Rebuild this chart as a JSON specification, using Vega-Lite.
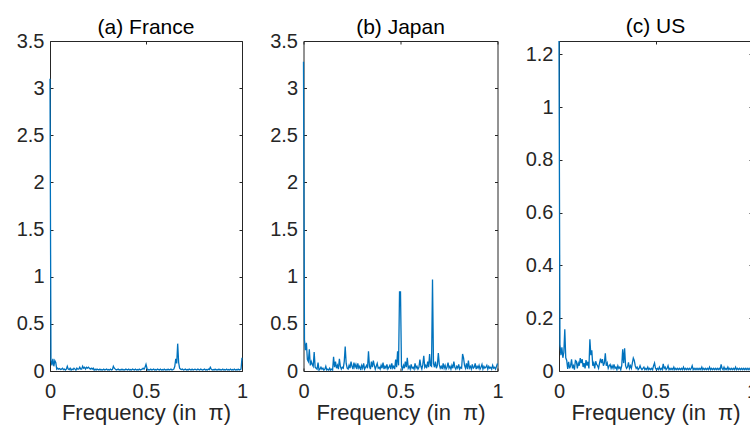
{
"$schema":"https://vega.github.io/schema/vega-lite/v6.json",
"padding":{"left":15,"top":15,"right":0,"bottom":2},
"background":"white",
"bounds":"flush",
"spacing":61.5,
"datasets":{
"fr":[
{"f":0,"p":3.1},{"f":0.005,"p":0.12},{"f":0.01,"p":0.06},{"f":0.015,"p":0.13},{"f":0.02,"p":0.05},{"f":0.025,"p":0.11},{"f":0.03,"p":0.09},{"f":0.035,"p":0.02},{"f":0.04,"p":0.03},{"f":0.045,"p":0.02},
{"f":0.05,"p":0.025},{"f":0.055,"p":0.015},{"f":0.06,"p":0.02},{"f":0.065,"p":0.03},{"f":0.07,"p":0.015},{"f":0.075,"p":0.02},{"f":0.08,"p":0.01},{"f":0.085,"p":0.02},{"f":0.09,"p":0.05},{"f":0.095,"p":0.02},
{"f":0.1,"p":0.015},{"f":0.105,"p":0.03},{"f":0.11,"p":0.01},{"f":0.115,"p":0.02},{"f":0.12,"p":0.015},{"f":0.125,"p":0.03},{"f":0.13,"p":0.02},{"f":0.135,"p":0.01},{"f":0.14,"p":0.03},{"f":0.145,"p":0.02},
{"f":0.15,"p":0.02},{"f":0.155,"p":0.04},{"f":0.16,"p":0.02},{"f":0.165,"p":0.02},{"f":0.17,"p":0.05},{"f":0.175,"p":0.03},{"f":0.18,"p":0.04},{"f":0.185,"p":0.02},{"f":0.19,"p":0.04},{"f":0.195,"p":0.03},
{"f":0.2,"p":0.04},{"f":0.205,"p":0.03},{"f":0.21,"p":0.02},{"f":0.215,"p":0.03},{"f":0.22,"p":0.02},{"f":0.225,"p":0.03},{"f":0.23,"p":0.01},{"f":0.235,"p":0.02},{"f":0.24,"p":0.01},{"f":0.245,"p":0.02},
{"f":0.25,"p":0.015},{"f":0.255,"p":0.01},{"f":0.26,"p":0.02},{"f":0.265,"p":0.01},{"f":0.27,"p":0.015},{"f":0.275,"p":0.01},{"f":0.28,"p":0.02},{"f":0.285,"p":0.01},{"f":0.29,"p":0.015},{"f":0.295,"p":0.02},
{"f":0.3,"p":0.01},{"f":0.305,"p":0.015},{"f":0.31,"p":0.01},{"f":0.315,"p":0.02},{"f":0.32,"p":0.01},{"f":0.325,"p":0.015},{"f":0.33,"p":0.05},{"f":0.335,"p":0.03},{"f":0.34,"p":0.02},{"f":0.345,"p":0.01},
{"f":0.35,"p":0.015},{"f":0.355,"p":0.02},{"f":0.36,"p":0.01},{"f":0.365,"p":0.015},{"f":0.37,"p":0.01},{"f":0.375,"p":0.02},{"f":0.38,"p":0.01},{"f":0.385,"p":0.015},{"f":0.39,"p":0.01},{"f":0.395,"p":0.02},
{"f":0.4,"p":0.015},{"f":0.405,"p":0.01},{"f":0.41,"p":0.02},{"f":0.415,"p":0.01},{"f":0.42,"p":0.015},{"f":0.425,"p":0.01},{"f":0.43,"p":0.02},{"f":0.435,"p":0.015},{"f":0.44,"p":0.01},{"f":0.445,"p":0.02},
{"f":0.45,"p":0.01},{"f":0.455,"p":0.015},{"f":0.46,"p":0.01},{"f":0.465,"p":0.02},{"f":0.47,"p":0.01},{"f":0.475,"p":0.015},{"f":0.48,"p":0.02},{"f":0.485,"p":0.03},{"f":0.49,"p":0.02},{"f":0.495,"p":0.04},
{"f":0.5,"p":0.07},{"f":0.505,"p":0.03},{"f":0.51,"p":0.01},{"f":0.515,"p":0.015},{"f":0.52,"p":0.01},{"f":0.525,"p":0.02},{"f":0.53,"p":0.01},{"f":0.535,"p":0.015},{"f":0.54,"p":0.02},{"f":0.545,"p":0.01},
{"f":0.55,"p":0.015},{"f":0.555,"p":0.01},{"f":0.56,"p":0.02},{"f":0.565,"p":0.015},{"f":0.57,"p":0.01},{"f":0.575,"p":0.02},{"f":0.58,"p":0.01},{"f":0.585,"p":0.015},{"f":0.59,"p":0.01},{"f":0.595,"p":0.02},
{"f":0.6,"p":0.01},{"f":0.605,"p":0.015},{"f":0.61,"p":0.01},{"f":0.615,"p":0.02},{"f":0.62,"p":0.01},{"f":0.625,"p":0.015},{"f":0.63,"p":0.02},{"f":0.635,"p":0.01},{"f":0.64,"p":0.015},{"f":0.645,"p":0.02},
{"f":0.65,"p":0.05},{"f":0.655,"p":0.13},{"f":0.66,"p":0.08},{"f":0.665,"p":0.29},{"f":0.67,"p":0.09},{"f":0.675,"p":0.03},{"f":0.68,"p":0.02},{"f":0.685,"p":0.015},{"f":0.69,"p":0.02},{"f":0.695,"p":0.01},
{"f":0.7,"p":0.015},{"f":0.705,"p":0.02},{"f":0.71,"p":0.01},{"f":0.715,"p":0.015},{"f":0.72,"p":0.01},{"f":0.725,"p":0.02},{"f":0.73,"p":0.015},{"f":0.735,"p":0.01},{"f":0.74,"p":0.02},{"f":0.745,"p":0.01},
{"f":0.75,"p":0.015},{"f":0.755,"p":0.02},{"f":0.76,"p":0.015},{"f":0.765,"p":0.01},{"f":0.77,"p":0.02},{"f":0.775,"p":0.015},{"f":0.78,"p":0.01},{"f":0.785,"p":0.02},{"f":0.79,"p":0.015},{"f":0.795,"p":0.01},
{"f":0.8,"p":0.015},{"f":0.805,"p":0.02},{"f":0.81,"p":0.01},{"f":0.815,"p":0.015},{"f":0.82,"p":0.01},{"f":0.825,"p":0.02},{"f":0.83,"p":0.015},{"f":0.835,"p":0.04},{"f":0.84,"p":0.02},{"f":0.845,"p":0.01},
{"f":0.85,"p":0.015},{"f":0.855,"p":0.01},{"f":0.86,"p":0.02},{"f":0.865,"p":0.01},{"f":0.87,"p":0.015},{"f":0.875,"p":0.01},{"f":0.88,"p":0.02},{"f":0.885,"p":0.01},{"f":0.89,"p":0.015},{"f":0.895,"p":0.01},
{"f":0.9,"p":0.02},{"f":0.905,"p":0.01},{"f":0.91,"p":0.015},{"f":0.915,"p":0.01},{"f":0.92,"p":0.02},{"f":0.925,"p":0.01},{"f":0.93,"p":0.015},{"f":0.935,"p":0.01},{"f":0.94,"p":0.02},{"f":0.945,"p":0.01},
{"f":0.95,"p":0.015},{"f":0.955,"p":0.01},{"f":0.96,"p":0.02},{"f":0.965,"p":0.01},{"f":0.97,"p":0.015},{"f":0.975,"p":0.01},{"f":0.98,"p":0.02},{"f":0.985,"p":0.01},{"f":0.99,"p":0.015},{"f":0.995,"p":0.02},
{"f":1,"p":0.14}
],
"jp":[
{"f":0,"p":3.28},{"f":0.005,"p":0.33},{"f":0.01,"p":0.22},{"f":0.015,"p":0.3},{"f":0.02,"p":0.12},{"f":0.025,"p":0.1},{"f":0.03,"p":0.23},{"f":0.035,"p":0.06},{"f":0.04,"p":0.1},{"f":0.045,"p":0.07},
{"f":0.05,"p":0.05},{"f":0.055,"p":0.2},{"f":0.06,"p":0.04},{"f":0.065,"p":0.03},{"f":0.07,"p":0.02},{"f":0.075,"p":0.09},{"f":0.08,"p":0.01},{"f":0.085,"p":0.02},{"f":0.09,"p":0.04},{"f":0.095,"p":0.02},
{"f":0.1,"p":0.03},{"f":0.105,"p":0.01},{"f":0.11,"p":0.02},{"f":0.115,"p":0.05},{"f":0.12,"p":0.01},{"f":0.125,"p":0.02},{"f":0.13,"p":0.01},{"f":0.135,"p":0.03},{"f":0.14,"p":0.01},{"f":0.145,"p":0.02},
{"f":0.15,"p":0.01},{"f":0.155,"p":0.15},{"f":0.16,"p":0.04},{"f":0.165,"p":0.1},{"f":0.17,"p":0.03},{"f":0.175,"p":0.06},{"f":0.18,"p":0.02},{"f":0.185,"p":0.13},{"f":0.19,"p":0.05},{"f":0.195,"p":0.02},
{"f":0.2,"p":0.04},{"f":0.205,"p":0.03},{"f":0.21,"p":0.1},{"f":0.215,"p":0.26},{"f":0.22,"p":0.08},{"f":0.225,"p":0.03},{"f":0.23,"p":0.02},{"f":0.235,"p":0.06},{"f":0.24,"p":0.03},{"f":0.245,"p":0.1},
{"f":0.25,"p":0.05},{"f":0.255,"p":0.02},{"f":0.26,"p":0.09},{"f":0.265,"p":0.04},{"f":0.27,"p":0.07},{"f":0.275,"p":0.02},{"f":0.28,"p":0.08},{"f":0.285,"p":0.03},{"f":0.29,"p":0.05},{"f":0.295,"p":0.01},
{"f":0.3,"p":0.06},{"f":0.305,"p":0.03},{"f":0.31,"p":0.08},{"f":0.315,"p":0.02},{"f":0.32,"p":0.04},{"f":0.325,"p":0.06},{"f":0.33,"p":0.03},{"f":0.335,"p":0.21},{"f":0.34,"p":0.05},{"f":0.345,"p":0.02},
{"f":0.35,"p":0.1},{"f":0.355,"p":0.04},{"f":0.36,"p":0.11},{"f":0.365,"p":0.06},{"f":0.37,"p":0.02},{"f":0.375,"p":0.05},{"f":0.38,"p":0.08},{"f":0.385,"p":0.03},{"f":0.39,"p":0.04},{"f":0.395,"p":0.02},
{"f":0.4,"p":0.06},{"f":0.405,"p":0.03},{"f":0.41,"p":0.09},{"f":0.415,"p":0.02},{"f":0.42,"p":0.05},{"f":0.425,"p":0.03},{"f":0.43,"p":0.07},{"f":0.435,"p":0.02},{"f":0.44,"p":0.04},{"f":0.445,"p":0.06},
{"f":0.45,"p":0.02},{"f":0.455,"p":0.08},{"f":0.46,"p":0.03},{"f":0.465,"p":0.05},{"f":0.47,"p":0.02},{"f":0.475,"p":0.12},{"f":0.48,"p":0.04},{"f":0.485,"p":0.21},{"f":0.49,"p":0.06},{"f":0.495,"p":0.84},
{"f":0.5,"p":0.84},{"f":0.505,"p":0.05},{"f":0.51,"p":0.02},{"f":0.515,"p":0.06},{"f":0.52,"p":0.03},{"f":0.525,"p":0.1},{"f":0.53,"p":0.04},{"f":0.535,"p":0.14},{"f":0.54,"p":0.03},{"f":0.545,"p":0.05},
{"f":0.55,"p":0.02},{"f":0.555,"p":0.07},{"f":0.56,"p":0.03},{"f":0.565,"p":0.04},{"f":0.57,"p":0.02},{"f":0.575,"p":0.08},{"f":0.58,"p":0.03},{"f":0.585,"p":0.05},{"f":0.59,"p":0.02},{"f":0.595,"p":0.04},
{"f":0.6,"p":0.12},{"f":0.605,"p":0.05},{"f":0.61,"p":0.02},{"f":0.615,"p":0.07},{"f":0.62,"p":0.16},{"f":0.625,"p":0.04},{"f":0.63,"p":0.06},{"f":0.635,"p":0.03},{"f":0.64,"p":0.1},{"f":0.645,"p":0.04},
{"f":0.65,"p":0.18},{"f":0.655,"p":0.06},{"f":0.66,"p":0.05},{"f":0.665,"p":0.97},{"f":0.67,"p":0.08},{"f":0.675,"p":0.04},{"f":0.68,"p":0.1},{"f":0.685,"p":0.03},{"f":0.69,"p":0.06},{"f":0.695,"p":0.19},
{"f":0.7,"p":0.07},{"f":0.705,"p":0.03},{"f":0.71,"p":0.05},{"f":0.715,"p":0.02},{"f":0.72,"p":0.08},{"f":0.725,"p":0.03},{"f":0.73,"p":0.06},{"f":0.735,"p":0.02},{"f":0.74,"p":0.04},{"f":0.745,"p":0.09},
{"f":0.75,"p":0.03},{"f":0.755,"p":0.05},{"f":0.76,"p":0.02},{"f":0.765,"p":0.06},{"f":0.77,"p":0.03},{"f":0.775,"p":0.1},{"f":0.78,"p":0.04},{"f":0.785,"p":0.02},{"f":0.79,"p":0.05},{"f":0.795,"p":0.03},
{"f":0.8,"p":0.07},{"f":0.805,"p":0.02},{"f":0.81,"p":0.04},{"f":0.815,"p":0.03},{"f":0.82,"p":0.18},{"f":0.825,"p":0.14},{"f":0.83,"p":0.06},{"f":0.835,"p":0.03},{"f":0.84,"p":0.08},{"f":0.845,"p":0.02},
{"f":0.85,"p":0.11},{"f":0.855,"p":0.03},{"f":0.86,"p":0.05},{"f":0.865,"p":0.02},{"f":0.87,"p":0.07},{"f":0.875,"p":0.03},{"f":0.88,"p":0.04},{"f":0.885,"p":0.08},{"f":0.89,"p":0.02},{"f":0.895,"p":0.05},
{"f":0.9,"p":0.03},{"f":0.905,"p":0.06},{"f":0.91,"p":0.02},{"f":0.915,"p":0.04},{"f":0.92,"p":0.07},{"f":0.925,"p":0.02},{"f":0.93,"p":0.05},{"f":0.935,"p":0.03},{"f":0.94,"p":0.04},{"f":0.945,"p":0.06},
{"f":0.95,"p":0.02},{"f":0.955,"p":0.05},{"f":0.96,"p":0.03},{"f":0.965,"p":0.04},{"f":0.97,"p":0.02},{"f":0.975,"p":0.06},{"f":0.98,"p":0.03},{"f":0.985,"p":0.04},{"f":0.99,"p":0.02},{"f":0.995,"p":0.05},
{"f":1,"p":0.08}
],
"us":[
{"f":0,"p":1.25},{"f":0.005,"p":0.1},{"f":0.01,"p":0.06},{"f":0.015,"p":0.09},{"f":0.02,"p":0.05},{"f":0.025,"p":0.07},{"f":0.03,"p":0.158},{"f":0.035,"p":0.05},{"f":0.04,"p":0.04},{"f":0.045,"p":0.008},
{"f":0.05,"p":0.035},{"f":0.055,"p":0.01},{"f":0.06,"p":0.02},{"f":0.065,"p":0.044},{"f":0.07,"p":0.01},{"f":0.075,"p":0.02},{"f":0.08,"p":0.005},{"f":0.085,"p":0.04},{"f":0.09,"p":0.037},{"f":0.095,"p":0.01},
{"f":0.1,"p":0.03},{"f":0.105,"p":0.02},{"f":0.11,"p":0.049},{"f":0.115,"p":0.03},{"f":0.12,"p":0.045},{"f":0.125,"p":0.015},{"f":0.13,"p":0.03},{"f":0.135,"p":0.01},{"f":0.14,"p":0.041},{"f":0.145,"p":0.02},
{"f":0.15,"p":0.035},{"f":0.155,"p":0.01},{"f":0.16,"p":0.12},{"f":0.165,"p":0.06},{"f":0.17,"p":0.078},{"f":0.175,"p":0.02},{"f":0.18,"p":0.03},{"f":0.185,"p":0.01},{"f":0.19,"p":0.037},{"f":0.195,"p":0.025},
{"f":0.2,"p":0.02},{"f":0.205,"p":0.01},{"f":0.21,"p":0.03},{"f":0.215,"p":0.047},{"f":0.22,"p":0.03},{"f":0.225,"p":0.045},{"f":0.23,"p":0.02},{"f":0.235,"p":0.03},{"f":0.24,"p":0.067},{"f":0.245,"p":0.02},
{"f":0.25,"p":0.03},{"f":0.255,"p":0.01},{"f":0.26,"p":0.02},{"f":0.265,"p":0.025},{"f":0.27,"p":0.01},{"f":0.275,"p":0.02},{"f":0.28,"p":0.01},{"f":0.285,"p":0.025},{"f":0.29,"p":0.01},{"f":0.295,"p":0.015},
{"f":0.3,"p":0.005},{"f":0.305,"p":0.02},{"f":0.31,"p":0.01},{"f":0.315,"p":0.015},{"f":0.32,"p":0.005},{"f":0.325,"p":0.02},{"f":0.33,"p":0.082},{"f":0.335,"p":0.03},{"f":0.34,"p":0.086},{"f":0.345,"p":0.02},
{"f":0.35,"p":0.01},{"f":0.355,"p":0.015},{"f":0.36,"p":0.033},{"f":0.365,"p":0.01},{"f":0.37,"p":0.02},{"f":0.375,"p":0.01},{"f":0.38,"p":0.03},{"f":0.385,"p":0.049},{"f":0.39,"p":0.04},{"f":0.395,"p":0.02},
{"f":0.4,"p":0.01},{"f":0.405,"p":0.015},{"f":0.41,"p":0.005},{"f":0.415,"p":0.01},{"f":0.42,"p":0.02},{"f":0.425,"p":0.01},{"f":0.43,"p":0.005},{"f":0.435,"p":0.01},{"f":0.44,"p":0.015},{"f":0.445,"p":0.005},
{"f":0.45,"p":0.01},{"f":0.455,"p":0.005},{"f":0.46,"p":0.015},{"f":0.465,"p":0.005},{"f":0.47,"p":0.01},{"f":0.475,"p":0.005},{"f":0.48,"p":0.01},{"f":0.485,"p":0.005},{"f":0.49,"p":0.02},{"f":0.495,"p":0.03},
{"f":0.5,"p":0.01},{"f":0.505,"p":0.005},{"f":0.51,"p":0.01},{"f":0.515,"p":0.005},{"f":0.52,"p":0.015},{"f":0.525,"p":0.005},{"f":0.53,"p":0.01},{"f":0.535,"p":0.005},{"f":0.54,"p":0.027},{"f":0.545,"p":0.01},
{"f":0.55,"p":0.015},{"f":0.555,"p":0.005},{"f":0.56,"p":0.01},{"f":0.565,"p":0.02},{"f":0.57,"p":0.005},{"f":0.575,"p":0.01},{"f":0.58,"p":0.005},{"f":0.585,"p":0.01},{"f":0.59,"p":0.005},{"f":0.595,"p":0.015},
{"f":0.6,"p":0.005},{"f":0.605,"p":0.01},{"f":0.61,"p":0.005},{"f":0.615,"p":0.01},{"f":0.62,"p":0.005},{"f":0.625,"p":0.01},{"f":0.63,"p":0.005},{"f":0.635,"p":0.01},{"f":0.64,"p":0.005},{"f":0.645,"p":0.015},
{"f":0.65,"p":0.005},{"f":0.655,"p":0.01},{"f":0.66,"p":0.005},{"f":0.665,"p":0.01},{"f":0.67,"p":0.005},{"f":0.675,"p":0.01},{"f":0.68,"p":0.005},{"f":0.685,"p":0.01},{"f":0.69,"p":0.02},{"f":0.695,"p":0.005},
{"f":0.7,"p":0.01},{"f":0.705,"p":0.005},{"f":0.71,"p":0.01},{"f":0.715,"p":0.005},{"f":0.72,"p":0.01},{"f":0.725,"p":0.005},{"f":0.73,"p":0.01},{"f":0.735,"p":0.005},{"f":0.74,"p":0.015},{"f":0.745,"p":0.005},
{"f":0.75,"p":0.01},{"f":0.755,"p":0.005},{"f":0.76,"p":0.01},{"f":0.765,"p":0.005},{"f":0.77,"p":0.01},{"f":0.775,"p":0.005},{"f":0.78,"p":0.015},{"f":0.785,"p":0.005},{"f":0.79,"p":0.01},{"f":0.795,"p":0.005},
{"f":0.8,"p":0.01},{"f":0.805,"p":0.005},{"f":0.81,"p":0.01},{"f":0.815,"p":0.005},{"f":0.82,"p":0.01},{"f":0.825,"p":0.005},{"f":0.83,"p":0.01},{"f":0.835,"p":0.005},{"f":0.84,"p":0.025},{"f":0.845,"p":0.01},
{"f":0.85,"p":0.005},{"f":0.855,"p":0.015},{"f":0.86,"p":0.005},{"f":0.865,"p":0.01},{"f":0.87,"p":0.005},{"f":0.875,"p":0.015},{"f":0.88,"p":0.005},{"f":0.885,"p":0.01},{"f":0.89,"p":0.005},{"f":0.895,"p":0.01},
{"f":0.9,"p":0.005},{"f":0.905,"p":0.01},{"f":0.91,"p":0.005},{"f":0.915,"p":0.015},{"f":0.92,"p":0.005},{"f":0.925,"p":0.01},{"f":0.93,"p":0.005},{"f":0.935,"p":0.01},{"f":0.94,"p":0.005},{"f":0.945,"p":0.01},
{"f":0.95,"p":0.005},{"f":0.955,"p":0.01},{"f":0.96,"p":0.005},{"f":0.965,"p":0.01},{"f":0.97,"p":0.005},{"f":0.975,"p":0.01},{"f":0.98,"p":0.005},{"f":0.985,"p":0.01},{"f":0.99,"p":0.005},{"f":0.995,"p":0.01},
{"f":1,"p":0.01}
]
},
"hconcat":[
{
"width":192,"height":330,
"title":{"text":"(a) France","offset":-7},
"layer":[
{"data":{"name":"fr"},"mark":{"type":"line","color":"#0072BD","strokeWidth":1.3},
"encoding":{"x":{"field":"f","type":"quantitative","scale":{"domain":[0,1],"nice":false},"axis":{"values":[0,0.5,1],"format":"~g","title":"Frequency (in\u00a0 π)"}},
"y":{"field":"p","type":"quantitative","scale":{"domain":[0,3.5],"nice":false},"axis":{"values":[0,0.5,1,1.5,2,2.5,3,3.5],"format":"~g","title":null}}}},
{"data":{"name":"fr"},"mark":{"type":"line","opacity":0},
"encoding":{"x":{"field":"f","type":"quantitative","scale":{"domain":[0,1],"nice":false},"axis":{"orient":"top","values":[0,0.5,1],"labels":false,"title":null}},
"y":{"field":"p","type":"quantitative","scale":{"domain":[0,3.5],"nice":false},"axis":{"orient":"right","values":[0,0.5,1,1.5,2,2.5,3,3.5],"labels":false,"title":null}}}}
],
"resolve":{"axis":{"x":"independent","y":"independent"}}
},
{
"width":194,"height":330,
"title":{"text":"(b) Japan","offset":-7},
"layer":[
{"data":{"name":"jp"},"mark":{"type":"line","color":"#0072BD","strokeWidth":1.3},
"encoding":{"x":{"field":"f","type":"quantitative","scale":{"domain":[0,1],"nice":false},"axis":{"values":[0,0.5,1],"format":"~g","title":"Frequency (in\u00a0 π)"}},
"y":{"field":"p","type":"quantitative","scale":{"domain":[0,3.5],"nice":false},"axis":{"values":[0,0.5,1,1.5,2,2.5,3,3.5],"format":"~g","title":null}}}},
{"data":{"name":"jp"},"mark":{"type":"line","opacity":0},
"encoding":{"x":{"field":"f","type":"quantitative","scale":{"domain":[0,1],"nice":false},"axis":{"orient":"top","values":[0,0.5,1],"labels":false,"title":null}},
"y":{"field":"p","type":"quantitative","scale":{"domain":[0,3.5],"nice":false},"axis":{"orient":"right","values":[0,0.5,1,1.5,2,2.5,3,3.5],"labels":false,"title":null}}}}
],
"resolve":{"axis":{"x":"independent","y":"independent"}}
},
{
"width":193,"height":330,
"title":{"text":"(c) US","offset":1},
"layer":[
{"data":{"name":"us"},"mark":{"type":"line","color":"#0072BD","strokeWidth":1.3},
"encoding":{"x":{"field":"f","type":"quantitative","scale":{"domain":[0,1],"nice":false},"axis":{"values":[0,0.5,1],"format":"~g","title":"Frequency (in\u00a0 π)"}},
"y":{"field":"p","type":"quantitative","scale":{"domain":[0,1.25],"nice":false},"axis":{"values":[0,0.2,0.4,0.6,0.8,1,1.2],"format":"~g","title":null}}}},
{"data":{"name":"us"},"mark":{"type":"line","opacity":0},
"encoding":{"x":{"field":"f","type":"quantitative","scale":{"domain":[0,1],"nice":false},"axis":{"orient":"top","values":[0,0.5,1],"labels":false,"title":null}},
"y":{"field":"p","type":"quantitative","scale":{"domain":[0,1.25],"nice":false},"axis":{"orient":"right","values":[0,0.2,0.4,0.6,0.8,1,1.2],"labels":false,"title":null}}}}
],
"resolve":{"axis":{"x":"independent","y":"independent"}}
}
],
"config":{
"font":"Liberation Sans",
"view":{"stroke":"#262626","strokeWidth":1},
"axis":{"domain":false,"grid":false,"ticks":true,"tickSize":-3,"tickColor":"#262626","tickWidth":1,"labelFlush":false,"labelOverlap":false,
"labelFont":"Liberation Sans","labelFontSize":20,"labelColor":"#262626",
"titleFont":"Liberation Sans","titleFontSize":22,"titleColor":"#262626","titleFontWeight":"normal"},
"axisX":{"labelPadding":13.5,"titlePadding":1},
"axisY":{"labelPadding":9},
"title":{"font":"Liberation Sans","fontSize":21,"fontWeight":"normal","color":"#000000","baseline":"alphabetic","anchor":"middle"}
}
}
